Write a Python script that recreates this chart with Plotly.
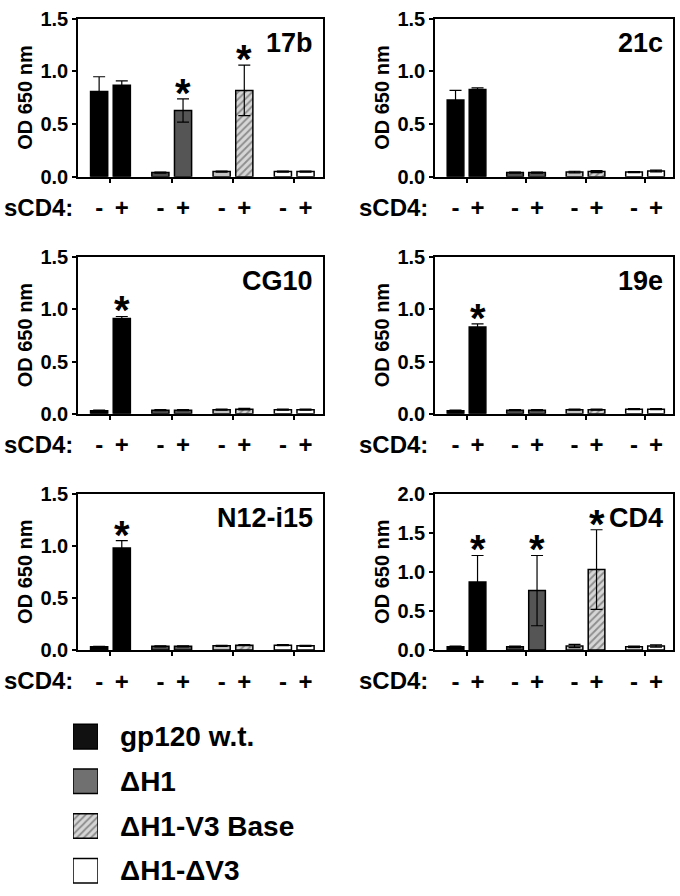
import plotly.graph_objects as go

# ---------------- data ----------------
groups = ["gp120 w.t.", "ΔH1", "ΔH1-V3 Base", "ΔH1-ΔV3"]
panels = ["17b", "21c", "CG10", "19e", "N12-i15", "CD4"]
sign_labels = ["-", "+"]

minus_17b = [0.81, 0.04, 0.05, 0.05]
minus_err_17b = [0.14, 0.005, 0.005, 0.005]
plus_17b = [0.87, 0.63, 0.82, 0.05]
plus_err_17b = [0.04, 0.11, 0.24, 0.005]
star_17b = [False, True, True, False]

minus_21c = [0.73, 0.04, 0.045, 0.045]
minus_err_21c = [0.09, 0.005, 0.008, 0.005]
plus_21c = [0.83, 0.04, 0.05, 0.055]
plus_err_21c = [0.015, 0.005, 0.01, 0.008]
star_21c = [False, False, False, False]

minus_cg10 = [0.03, 0.035, 0.04, 0.04]
minus_err_cg10 = [0.005, 0.005, 0.005, 0.005]
plus_cg10 = [0.91, 0.035, 0.045, 0.04]
plus_err_cg10 = [0.02, 0.005, 0.008, 0.005]
star_cg10 = [True, False, False, False]

minus_19e = [0.03, 0.035, 0.04, 0.045]
minus_err_19e = [0.005, 0.005, 0.005, 0.005]
plus_19e = [0.83, 0.035, 0.04, 0.045]
plus_err_19e = [0.03, 0.005, 0.005, 0.005]
star_19e = [True, False, False, False]

minus_n12 = [0.03, 0.035, 0.04, 0.045]
minus_err_n12 = [0.005, 0.005, 0.005, 0.005]
plus_n12 = [0.98, 0.035, 0.045, 0.04]
plus_err_n12 = [0.07, 0.005, 0.005, 0.005]
star_n12 = [True, False, False, False]

minus_cd4 = [0.04, 0.04, 0.05, 0.04]
minus_err_cd4 = [0.01, 0.01, 0.02, 0.01]
plus_cd4 = [0.87, 0.76, 1.03, 0.05]
plus_err_cd4 = [0.34, 0.45, 0.51, 0.015]
star_cd4 = [True, True, True, False]

y_max = [1.5, 1.5, 1.5, 1.5, 1.5, 2.0]
legend_swatch = [1, 1, 1, 1]

# ---------------- style ----------------
FONT = "Arial, 'Liberation Sans', Helvetica, sans-serif"
minus_colors = ["#000000", "#4f4f4f", "#c4c4c4", "#ffffff"]
plus_colors = ["#000000", "#555555", "#d6d6d6", "#ffffff"]
plus_shapes = ["", "", "/", ""]
legend_colors = ["#111111", "#707070", "#d6d6d6", "#ffffff"]
legend_shapes = ["", "", "/", ""]

W, H = 680, 896
cols_px = [(78, 323), (435, 673)]
rows_px = [(8, 170), (252, 413), (495, 655)]
BAR_W = 0.28
OFF = 0.185

minus_all = [minus_17b, minus_21c, minus_cg10, minus_19e, minus_n12, minus_cd4]
minus_err_all = [minus_err_17b, minus_err_21c, minus_err_cg10, minus_err_19e, minus_err_n12, minus_err_cd4]
plus_all = [plus_17b, plus_21c, plus_cg10, plus_19e, plus_n12, plus_cd4]
plus_err_all = [plus_err_17b, plus_err_21c, plus_err_cg10, plus_err_19e, plus_err_n12, plus_err_cd4]
star_all = [star_17b, star_21c, star_cg10, star_19e, star_n12, star_cd4]

fig = go.Figure()
annotations = []
xpos = list(range(len(groups)))

for p, name in enumerate(panels):
    n = p + 1
    sfx = "" if n == 1 else str(n)
    col = p % 2
    row = p // 2
    x0, x1 = cols_px[col]
    yt, yb = rows_px[row]
    xa = dict(
        domain=[x0 / W, x1 / W],
        range=[-0.53, 3.47],
        anchor="y" + sfx,
        showline=True, linecolor="black", linewidth=1.6, mirror=True,
        showgrid=False, zeroline=False,
        tickmode="array",
        tickvals=[i - OFF for i in xpos] + [i + OFF for i in xpos],
        ticktext=[sign_labels[0]] * 4 + [sign_labels[1]] * 4,
        ticks="outside", ticklen=9, tickcolor="rgba(0,0,0,0)",
        tickfont=dict(family=FONT, size=24, color="black", weight="bold"),
        minor=dict(tickmode="array", tickvals=xpos, ticks="outside", ticklen=4,
                   tickwidth=1.5, tickcolor="black", showgrid=False),
        fixedrange=True,
    )
    ya = dict(
        domain=[1 - yb / H, 1 - yt / H],
        range=[0, y_max[p]],
        anchor="x" + sfx,
        showline=True, linecolor="black", linewidth=1.6, mirror=True,
        showgrid=False, zeroline=False,
        tickmode="linear", tick0=0, dtick=0.5, tickformat=".1f",
        ticks="outside", ticklen=4, tickwidth=1.5, tickcolor="black",
        tickfont=dict(family=FONT, size=20, color="black", weight="bold"),
        fixedrange=True,
    )
    fig.update_layout({"xaxis" + sfx: xa, "yaxis" + sfx: ya})

    fig.add_trace(go.Bar(
        x=xpos, y=minus_all[p], width=BAR_W, offset=-OFF - BAR_W / 2,
        marker=dict(color=minus_colors, line=dict(color="black", width=1.5)),
        error_y=dict(type="data", array=minus_err_all[p], color="black", thickness=1.2, width=6),
        xaxis="x" + sfx, yaxis="y" + sfx, showlegend=False,
    ))
    fig.add_trace(go.Bar(
        x=xpos, y=plus_all[p], width=BAR_W, offset=OFF - BAR_W / 2,
        marker=dict(color=plus_colors, line=dict(color="black", width=1.5),
                    pattern=dict(shape=plus_shapes, fgcolor="#4a4a4a", size=5,
                                 solidity=0.38, fillmode="overlay")),
        error_y=dict(type="data", array=plus_err_all[p], color="black", thickness=1.2, width=6),
        xaxis="x" + sfx, yaxis="y" + sfx, showlegend=False,
    ))

    # significance asterisks
    for i, s in enumerate(star_all[p]):
        if s:
            annotations.append(dict(
                x=i + OFF, y=plus_all[p][i] + plus_err_all[p][i],
                xref="x" + sfx, yref="y" + sfx, text="*", showarrow=False,
                yanchor="middle", yshift=6,
                font=dict(family=FONT, size=40, color="black", weight="bold"),
            ))
    # panel label
    annotations.append(dict(
        x=1, y=1, xref="x" + sfx + " domain", yref="y" + sfx + " domain",
        xanchor="right", yanchor="middle", xshift=-8, yshift=-24,
        text=name, showarrow=False,
        font=dict(family=FONT, size=27, color="black", weight="bold"),
    ))
    # y title
    annotations.append(dict(
        x=0, y=0.5, xref="x" + sfx + " domain", yref="y" + sfx + " domain",
        xanchor="center", yanchor="middle", xshift=-53, textangle=-90,
        text="OD 650 nm", showarrow=False,
        font=dict(family=FONT, size=20, color="black", weight="bold"),
    ))
    # sCD4 label
    annotations.append(dict(
        x=(2 if col == 0 else 357) / W, y=0, xref="paper", yref="y" + sfx + " domain",
        xanchor="left", yanchor="middle", yshift=-31,
        text="sCD4:", showarrow=False,
        font=dict(family=FONT, size=24, color="black", weight="bold"),
    ))

# ---------------- legend (drawn as swatch bars) ----------------
leg_top, leg_bot = 721, 896
fig.add_trace(go.Bar(
    y=list(range(len(groups))), x=legend_swatch, orientation="h", width=0.55,
    marker=dict(color=legend_colors, line=dict(color="black", width=1.5),
                pattern=dict(shape=legend_shapes, fgcolor="#4a4a4a", size=5,
                             solidity=0.38, fillmode="overlay")),
    xaxis="x7", yaxis="y7", showlegend=False, hoverinfo="skip",
))
fig.update_layout(
    xaxis7=dict(domain=[73 / W, 98 / W], range=[0, 1], anchor="y7", visible=False, fixedrange=True),
    yaxis7=dict(domain=[1 - leg_bot / H, 1 - leg_top / H], range=[3.32, -0.5], anchor="x7",
                visible=False, fixedrange=True),
)
for i, g in enumerate(groups):
    annotations.append(dict(
        x=1, y=i, xref="x7", yref="y7", xanchor="left", yanchor="middle", xshift=20,
        text=g, showarrow=False,
        font=dict(family=FONT, size=28, color="black", weight="bold"),
    ))

fig.update_layout(
    width=W, height=H,
    margin=dict(l=0, r=0, t=0, b=0),
    paper_bgcolor="white", plot_bgcolor="white",
    barmode="overlay",
    font=dict(family=FONT, color="black"),
    annotations=annotations,
    showlegend=False,
)

fig.write_html(
    "out.html",
    config={"displayModeBar": False},
    post_script=("document.documentElement.style.margin='0';"
                 "document.documentElement.style.overflow='hidden';"
                 "document.body.style.margin='0';document.body.style.overflow='hidden';"),
)
